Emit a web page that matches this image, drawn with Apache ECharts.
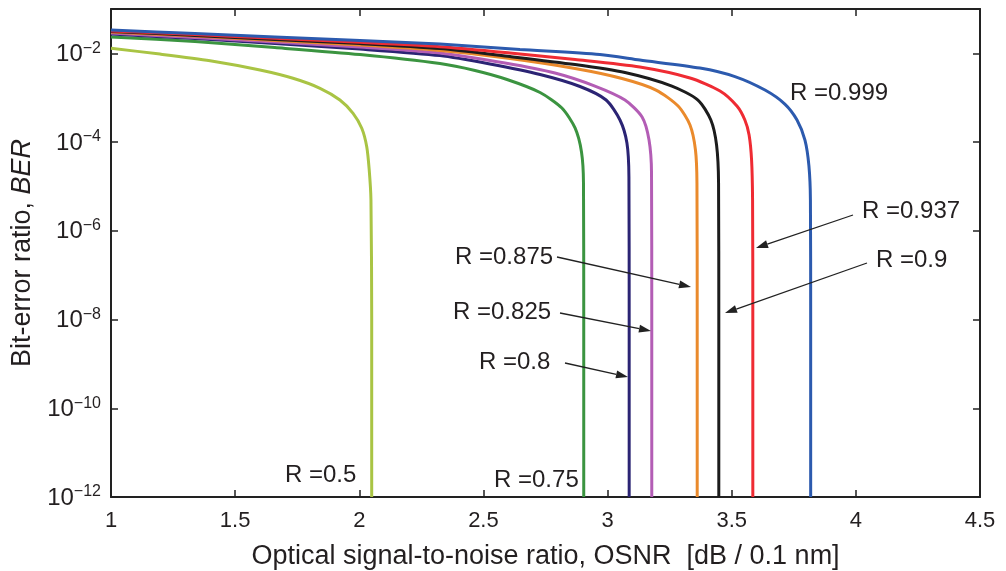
<!DOCTYPE html>
<html><head><meta charset="utf-8">
<script src="https://cdn.jsdelivr.net/npm/echarts@6/dist/echarts.min.js"></script>
<style>html,body{margin:0;padding:0;background:#fff}#c{width:1006px;height:571px}</style>
</head><body><div id="c"></div>
<script>
// ---- data (x = OSNR dB/0.1nm, y = BER) ----
const xMin = 1, xMax = 4.5, xStep = 0.5;
const yTickExponents = [-12, -10, -8, -6, -4, -2];
const seriesNames = ['R =0.5', 'R =0.75', 'R =0.8', 'R =0.825', 'R =0.875', 'R =0.9', 'R =0.937', 'R =0.999'];

const r050 = [[1.000,0.0130],[1.197,0.00964],[1.399,0.00681],[1.600,0.00421],[1.733,0.00274],[1.842,0.00163],[1.922,8.88e-4],[1.975,4.45e-4],[2.010,2.05e-4],[2.030,7.87e-5],[2.040,2.35e-5],[2.047,4.97e-6],[2.050,1e-8],[2.050,1e-12]];
const r075 = [[1.000,0.0235],[1.338,0.0184],[1.660,0.0135],[2.003,0.00940],[2.325,0.00589],[2.466,0.00410],[2.595,0.00257],[2.728,0.00131],[2.816,5.86e-4],[2.869,2.08e-4],[2.895,5.99e-5],[2.903,1.20e-5],[2.904,1e-8],[2.904,1e-12]];
const r080 = [[1.000,0.0272],[1.338,0.0215],[1.660,0.0166],[2.003,0.0125],[2.325,0.00892],[2.526,0.00574],[2.728,0.00333],[2.889,0.00179],[2.994,8.88e-4],[3.050,3.15e-4],[3.078,9.54e-5],[3.086,1.64e-5],[3.087,1e-8],[3.087,1e-12]];
const r0825 = [[1.000,0.0287],[1.338,0.0227],[1.660,0.0180],[2.003,0.0139],[2.325,0.0102],[2.587,0.00605],[2.788,0.00360],[2.949,0.00183],[3.070,8.88e-4],[3.139,3.68e-4],[3.167,1.11e-4],[3.177,2.02e-5],[3.178,1e-8],[3.178,1e-12]];
const r0875 = [[1.000,0.0302],[1.338,0.0245],[1.660,0.0194],[2.003,0.0154],[2.325,0.0116],[2.607,0.00764],[2.869,0.00455],[3.058,0.00271],[3.195,0.00149],[3.284,6.50e-4],[3.332,2.43e-4],[3.354,6.64e-5],[3.360,1.20e-5],[3.361,1e-8],[3.361,1e-12]];
const r090 = [[1.000,0.0313],[1.338,0.0254],[1.660,0.0205],[2.003,0.0166],[2.325,0.0128],[2.607,0.00847],[2.869,0.00559],[3.070,0.00369],[3.259,0.00183],[3.364,8.88e-4],[3.416,3.15e-4],[3.439,8.60e-5],[3.447,1.20e-5],[3.448,1e-8],[3.448,1e-12]];
const r0937 = [[1.000,0.0321],[1.338,0.0265],[1.660,0.0218],[2.003,0.0177],[2.325,0.0141],[2.607,0.0102],[2.869,0.00725],[3.130,0.00491],[3.332,0.00278],[3.453,0.00142],[3.521,6.50e-4],[3.553,3.15e-4],[3.570,1.45e-4],[3.580,3.95e-5],[3.584,4.97e-6],[3.585,1e-8],[3.585,1e-12]];
const r0999 = [[1.000,0.0335],[1.338,0.0279],[1.660,0.0233],[2.003,0.0194],[2.325,0.0162],[2.647,0.0122],[2.969,0.00940],[3.130,0.00706],[3.372,0.00467],[3.513,0.00300],[3.634,0.00149],[3.714,7.21e-4],[3.763,3.15e-4],[3.795,1.11e-4],[3.811,2.90e-5],[3.817,4.97e-6],[3.818,1e-8],[3.818,1e-12]];

const allData = [r050, r075, r080, r0825, r0875, r090, r0937, r0999];
const colors = ['#a9c444', '#3b9440', '#2b2474', '#b35db5', '#ea8a2c', '#1c1c1c', '#ef2b33', '#2c5aae'];

// annotation layout (pixels)
const labelPos = [[285,475],[494,480],[479,362],[453,312],[455,257],[876,260],[862,211],[790,93]];
const arrows = [null, null, [565,363,628,377], [560,313,651,331], [557,257,691,287], [867,263,725,313], [853,215,756,248], null];

const TXT = '#231f20';
const FONT = '"Liberation Sans", Arial, Helvetica, sans-serif';

const chart = echarts.init(document.getElementById('c'), null, {renderer: 'canvas'});

const graphics = [];
seriesNames.forEach((n, i) => {
  graphics.push({type: 'text', x: labelPos[i][0], y: labelPos[i][1], z: 100,
    style: {text: n, fill: TXT, font: '24px ' + FONT, verticalAlign: 'middle', align: 'left'}});
  const a = arrows[i];
  if (a) {
    const [x1, y1, x2, y2] = a;
    const ang = Math.atan2(y2 - y1, x2 - x1);
    const L = 12, W = 4;
    const bx = x2 - L * Math.cos(ang), by = y2 - L * Math.sin(ang);
    const px = -Math.sin(ang) * W, py = Math.cos(ang) * W;
    graphics.push({type: 'line', z: 100, shape: {x1, y1, x2: bx, y2: by}, style: {stroke: '#222', lineWidth: 1.3}});
    graphics.push({type: 'polygon', z: 100, shape: {points: [[x2, y2], [bx + px, by + py], [bx - px, by - py]]}, style: {fill: '#222'}});
  }
});

const axLine = {show: true, lineStyle: {color: '#222', width: 2}};
const axTick = {show: true, inside: true, length: 7, lineStyle: {color: '#222', width: 1.5}};

function yLabel(v) {
  const e = Math.round(Math.log10(v));
  if (yTickExponents.indexOf(e) < 0) return '';
  return '{b|10}{s|\u2212' + (-e) + '}';
}

chart.setOption({
  animation: false,
  backgroundColor: '#fff',
  grid: {left: 111, right: 26, top: 9, bottom: 74, containLabel: false, outerBoundsMode: 'none'},
  xAxis: [
    {type: 'value', min: xMin, max: xMax, interval: xStep, position: 'bottom',
     axisLine: axLine, axisTick: axTick, splitLine: {show: false},
     axisLabel: {color: TXT, fontSize: 22, fontFamily: FONT, margin: 13},
     name: 'Optical signal-to-noise ratio, OSNR  [dB / 0.1 nm]', nameLocation: 'middle', nameGap: 46,
     nameTextStyle: {color: TXT, fontSize: 27, fontFamily: FONT}},
    {type: 'value', min: xMin, max: xMax, interval: xStep, position: 'top',
     axisLine: axLine, axisTick: axTick, splitLine: {show: false}, axisLabel: {show: false}}
  ],
  yAxis: [
    {type: 'log', logBase: 10, min: 1e-12, max: 0.1, interval: 2, position: 'left',
     axisLine: axLine, axisTick: axTick, minorTick: {show: false}, splitLine: {show: false},
     axisLabel: {formatter: yLabel, margin: 10, color: TXT, fontFamily: FONT,
       rich: {b: {fontSize: 24, color: TXT, fontFamily: FONT, verticalAlign: 'bottom', lineHeight: 26},
              s: {fontSize: 16, color: TXT, fontFamily: FONT, verticalAlign: 'top', lineHeight: 26}}},
     name: '{n|Bit-error ratio, }{i|BER}', nameLocation: 'middle', nameGap: 72, nameRotate: 90,
     nameTextStyle: {rich: {n: {fontSize: 27, color: TXT, fontFamily: FONT}, i: {fontSize: 27, color: TXT, fontFamily: FONT, fontStyle: 'italic'}}}},
    {type: 'log', logBase: 10, min: 1e-12, max: 0.1, interval: 2, position: 'right',
     axisLine: axLine, axisTick: axTick, minorTick: {show: false}, splitLine: {show: false}, axisLabel: {show: false}}
  ],
  series: allData.map((d, i) => ({
    name: seriesNames[i], type: 'line', data: d, xAxisIndex: 0, yAxisIndex: 0,
    showSymbol: false, smooth: 0.25,
    lineStyle: {color: colors[i], width: 3}, z: 2 + i
  })),
  graphic: graphics
});
</script>
</body></html>
